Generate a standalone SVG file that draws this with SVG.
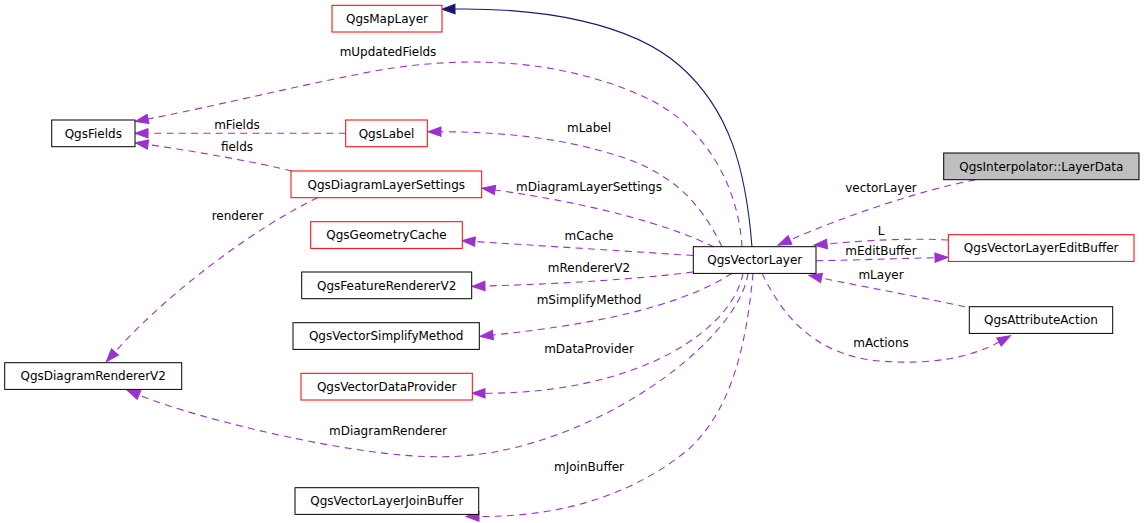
<svg xmlns="http://www.w3.org/2000/svg" width="1144" height="523" viewBox="0 0 1144 523">
<style>
.n rect{fill:#fff;stroke:#000;stroke-width:1}
.n.r rect{stroke:#ff0000}
.n.g rect{fill:#bfbfbf}
text{font-family:"DejaVu Sans","Liberation Sans",sans-serif;font-size:12px;fill:#000}
.n text{text-anchor:middle}
.e path{fill:none;stroke:#9a32cd;stroke-width:1.1;stroke-dasharray:7,5.3}
.e path.inh{stroke:#191970;stroke-dasharray:none}
.lbl text{text-anchor:middle}
</style>
<defs>
<marker id="ap" markerUnits="userSpaceOnUse" markerWidth="14" markerHeight="10" refX="0" refY="4.7" orient="auto" overflow="visible"><path d="M0,0 L13,4.7 L0,9.4 z" fill="#9a32cd" stroke="#9a32cd" stroke-width="1"/></marker>
<marker id="ab" markerUnits="userSpaceOnUse" markerWidth="14" markerHeight="10" refX="0" refY="4.7" orient="auto" overflow="visible"><path d="M0,0 L13,4.7 L0,9.4 z" fill="#191970" stroke="#191970" stroke-width="1"/></marker>
</defs>
<rect width="1144" height="523" fill="#fff"/>
<g id="edges" class="e">
<path class="inh" marker-end="url(#ab)" d="M752,247 C746,170 730,110 680,66 C630,22 540,8 455,9"/>
<path marker-end="url(#ap)" d="M742,247 C738,180 700,120 640,95 C560,60 470,55 380,70 C300,85 220,105 148,119"/>
<path marker-end="url(#ap)" d="M345.7,133.3 L148,133.3"/>
<path marker-end="url(#ap)" d="M292,171 C260,163 200,152 148,144.5"/>
<path marker-end="url(#ap)" d="M722,247 C700,200 670,175 630,160 C580,142 520,132 441,131.7"/>
<path marker-end="url(#ap)" d="M714,247 C670,225 590,203 495,190"/>
<path marker-end="url(#ap)" d="M318,197.5 C260,225 170,290 115,352"/>
<path marker-end="url(#ap)" d="M693,255.5 C640,252 560,247 475,241.5"/>
<path marker-end="url(#ap)" d="M693,272 C640,279 560,284 485,286"/>
<path marker-end="url(#ap)" d="M732,273.3 C690,300 620,322 493,335"/>
<path marker-end="url(#ap)" d="M743,273.3 C732,330 640,393 485,393.3"/>
<path marker-end="url(#ap)" d="M748,273.3 C738,345 580,458 440,456.7 C360,458 200,420 139,395"/>
<path marker-end="url(#ap)" d="M753,273.3 C746,350 730,410 690,448 C640,490 570,517 479,516.5"/>
<path marker-end="url(#ap)" d="M975,180 C920,190 840,218 790,240"/>
<path marker-end="url(#ap)" d="M948,240 C910,238 870,240 827,244"/>
<path marker-end="url(#ap)" d="M816,260.7 C860,260 900,258.5 935,257.7"/>
<path marker-end="url(#ap)" d="M965,306.7 C920,297 860,286 821.5,278"/>
<path marker-end="url(#ap)" d="M762,273.3 C780,310 810,355 880,361 C930,365 970,358 999,342"/>
</g>
<g class="lbl">
<text x="388" y="56">mUpdatedFields</text>
<text x="237" y="129">mFields</text>
<text x="237" y="151">fields</text>
<text x="589" y="131.5">mLabel</text>
<text x="589" y="190.5">mDiagramLayerSettings</text>
<text x="237.5" y="220">renderer</text>
<text x="589" y="240">mCache</text>
<text x="589" y="271.5">mRendererV2</text>
<text x="589" y="304">mSimplifyMethod</text>
<text x="589" y="352.5">mDataProvider</text>
<text x="388" y="435">mDiagramRenderer</text>
<text x="589" y="470.5">mJoinBuffer</text>
<text x="881" y="191.5">vectorLayer</text>
<text x="881" y="235">L</text>
<text x="881" y="255">mEditBuffer</text>
<text x="881" y="278.5">mLayer</text>
<text x="881" y="347">mActions</text>
</g>
<g id="QgsMapLayer" class="n r"><rect x="332" y="5.3" width="110" height="26.7"/><text x="387" y="23">QgsMapLayer</text></g>
<g id="QgsFields" class="n"><rect x="51.7" y="120" width="83.3" height="26.7"/><text x="93.3" y="137.6">QgsFields</text></g>
<g id="QgsLabel" class="n r"><rect x="345.7" y="120" width="81.6" height="26.7"/><text x="386.5" y="137.6">QgsLabel</text></g>
<g id="QgsDiagramLayerSettings" class="n r"><rect x="291" y="171" width="190.7" height="26.7"/><text x="386.3" y="188.6">QgsDiagramLayerSettings</text></g>
<g id="QgsGeometryCache" class="n r"><rect x="310.7" y="221.7" width="151.6" height="26.7"/><text x="386.5" y="239.3">QgsGeometryCache</text></g>
<g id="QgsFeatureRendererV2" class="n"><rect x="301.7" y="272" width="170" height="26.7"/><text x="386.7" y="289.6">QgsFeatureRendererV2</text></g>
<g id="QgsVectorSimplifyMethod" class="n"><rect x="293" y="322.7" width="186.3" height="26.7"/><text x="386.2" y="340.3">QgsVectorSimplifyMethod</text></g>
<g id="QgsVectorDataProvider" class="n r"><rect x="301" y="373.3" width="171.3" height="26.7"/><text x="386.7" y="391">QgsVectorDataProvider</text></g>
<g id="QgsVectorLayerJoinBuffer" class="n"><rect x="295" y="487.7" width="183.7" height="26.7"/><text x="386.9" y="505.3">QgsVectorLayerJoinBuffer</text></g>
<g id="QgsDiagramRendererV2" class="n"><rect x="4.7" y="362.7" width="177" height="26.7"/><text x="93.2" y="380.3">QgsDiagramRendererV2</text></g>
<g id="QgsVectorLayer" class="n"><rect x="693.3" y="246.7" width="122.7" height="26.7"/><text x="754.7" y="264.3">QgsVectorLayer</text></g>
<g id="QgsInterpolator_LayerData" class="n g"><rect x="943.7" y="153" width="195.3" height="26.7"/><text x="1041.3" y="170.6">QgsInterpolator::LayerData</text></g>
<g id="QgsVectorLayerEditBuffer" class="n r"><rect x="948.3" y="234.7" width="185.7" height="26.7"/><text x="1041.2" y="252.3">QgsVectorLayerEditBuffer</text></g>
<g id="QgsAttributeAction" class="n"><rect x="969.3" y="306.7" width="143.4" height="26.7"/><text x="1041" y="324.3">QgsAttributeAction</text></g>
</svg>
